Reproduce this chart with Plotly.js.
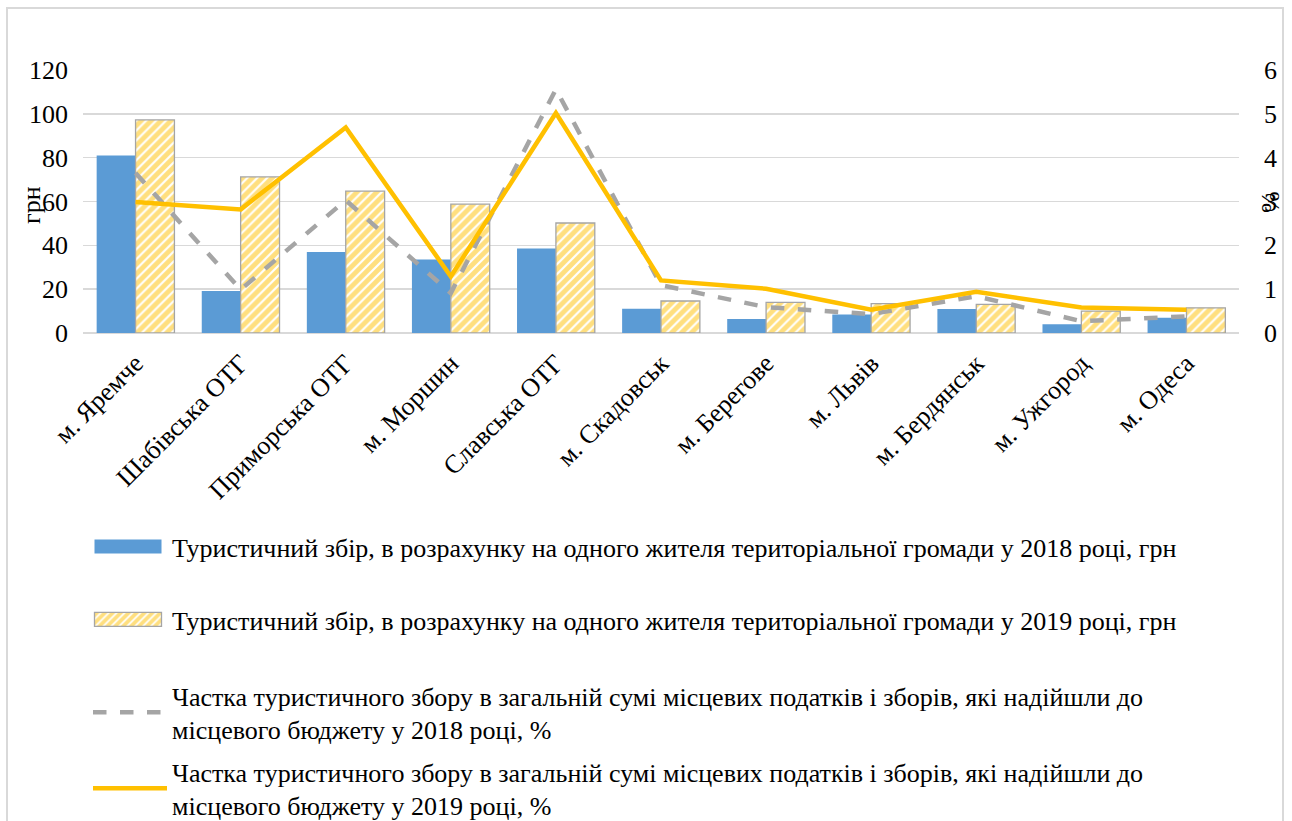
<!DOCTYPE html>
<html>
<head>
<meta charset="utf-8">
<script src="https://cdn.plot.ly/plotly-3.0.1.min.js"></script>
<style>
html,body{margin:0;padding:0;background:#fff;overflow:hidden;}
#wrap{position:relative;width:1292px;height:821px;overflow:hidden;}
#chart{width:1292px;height:821px;}
#frame{position:absolute;left:6px;top:7px;width:1278px;height:830px;border:2px solid #D9D9D9;pointer-events:none;box-sizing:border-box;}
</style>
</head>
<body>
<div id="wrap"><div id="chart"></div><div id="frame"></div></div>
<script>
const categories = ["м. Яремче","Шабівська ОТГ","Приморська ОТГ","м. Моршин","Славська ОТГ","м. Скадовськ","м. Берегове","м. Львів","м. Бердянськ","м. Ужгород","м. Одеса"];
const fee2018 = [81, 19.2, 37, 33.5, 38.5, 11.1, 6.4, 8.4, 11, 4.0, 7.0];
const fee2019 = [97.2, 71.2, 64.7, 58.8, 50.2, 14.6, 14.0, 13.4, 13.1, 10.0, 11.5];
const share2018 = [3.65, 0.99, 3.03, 0.91, 5.56, 1.09, 0.59, 0.43, 0.84, 0.27, 0.38];
const share2019 = [2.99, 2.82, 4.69, 1.29, 5.02, 1.20, 1.01, 0.53, 0.94, 0.58, 0.53];
const leftTicks = [0,20,40,60,80,100,120];
const rightTicks = [0,1,2,3,4,5,6];
const names = [
  "Туристичний збір, в розрахунку на одного жителя територіальної громади у 2018 році, грн",
  "Туристичний збір, в розрахунку на одного жителя територіальної громади у 2019 році, грн",
  "Частка туристичного збору в загальній сумі місцевих податків і зборів, які надійшли до<br>місцевого бюджету у 2018 році, %",
  "Частка туристичного збору в загальній сумі місцевих податків і зборів, які надійшли до<br>місцевого бюджету у 2019 році, %"
];

const FONT = "Liberation Serif";
const FS = 26;
const W = 1292, H = 821;
const PL = 83, PR = 1239, PT = 70, PB = 333;
const px2x = p => (p - PL) / (PR - PL);
const py2y = p => (PB - p) / (PB - PT);

const traces = [
  {type:"bar", x:categories, y:fee2018, name:names[0], legend:"legend",
   marker:{color:"#5B9BD5", line:{width:0}}},
  {type:"bar", x:categories, y:fee2019, name:names[1], legend:"legend2",
   marker:{color:"#FFFFFF", line:{color:"#A5A5A5", width:1.3},
     pattern:{shape:"/", fgcolor:"#FFC000", bgcolor:"#FFFFFF", size:7, solidity:0.7, fillmode:"overlay"}}},
  {type:"scatter", mode:"lines", x:categories, y:share2018, yaxis:"y2", name:names[2], legend:"legend3",
   line:{color:"#A5A5A5", width:4.5, dash:"dash"}},
  {type:"scatter", mode:"lines", x:categories, y:share2019, yaxis:"y2", name:names[3], legend:"legend4",
   line:{color:"#FFC000", width:4.5}}
];

function leg(px, py){
  return {xref:"container", yref:"container", x:px / W, y:1 - py / H, xanchor:"left", yanchor:"top",
    bgcolor:"rgba(0,0,0,0)", font:{family:FONT, size:FS, color:"#000"}, itemwidth:74, borderwidth:0};
}

const layout = {
  width:W, height:H,
  margin:{l:PL, r:W-PR, t:PT, b:H-PB, pad:0, autoexpand:false},
  paper_bgcolor:"#fff", plot_bgcolor:"#fff",
  font:{family:FONT, size:FS, color:"#000"},
  barmode:"group", bargap:0.26, bargroupgap:0,
  showlegend:true,
  xaxis:{type:"category", tickangle:-45, tickfont:{family:FONT, size:FS, color:"#000"},
    showgrid:false, showline:false, zeroline:false, ticks:"", automargin:false, ticklabelstandoff:9},
  yaxis:{range:[0,120], tickvals:leftTicks, ticktext:leftTicks.map(String), showgrid:true, gridcolor:"#D9D9D9", gridwidth:1.5,
    zeroline:true, zerolinecolor:"#D9D9D9", zerolinewidth:1.5, showline:false, ticks:"",
    tickfont:{family:FONT, size:FS, color:"#000"}, automargin:false, ticklabelstandoff:14},
  yaxis2:{overlaying:"y", side:"right", range:[0,6], tickvals:rightTicks, ticktext:rightTicks.map(String), showgrid:false,
    zeroline:false, showline:false, ticks:"", tickfont:{family:FONT, size:FS, color:"#000"}, automargin:false, ticklabelstandoff:24},
  legend: leg(88, 523),
  legend2: leg(88, 596),
  legend3: leg(88, 672),
  legend4: leg(88, 748),
  annotations:[
    {text:"грн", xref:"paper", yref:"paper", x:px2x(31), y:py2y(205), textangle:-90, showarrow:false,
     font:{family:FONT, size:FS, color:"#000"}, xanchor:"center", yanchor:"middle"},
    {text:"%", xref:"paper", yref:"paper", x:px2x(1270), y:py2y(202), textangle:-90, showarrow:false,
     font:{family:FONT, size:FS, color:"#000"}, xanchor:"center", yanchor:"middle"}
  ]
};

Plotly.newPlot("chart", traces, layout, {displayModeBar:false, staticPlot:true}).then(function(gd){
  gd.querySelectorAll(".legendpoints path").forEach(function(p){
    var d = (p.getAttribute("d") || "").replace(/\s/g,"");
    if (/^M[\d.]+,[\d.]+H-[\d.]+V-[\d.]+H[\d.]+Z$/.test(d)) {
      p.setAttribute("d", "M31.5,7H-35.5V-7H31.5Z");
    } else if (/^M[\d.]+,0h[\d.]+$/.test(d)) {
      p.setAttribute("d", "M5,0h66");
    }
  });
});
</script>
</body>
</html>
